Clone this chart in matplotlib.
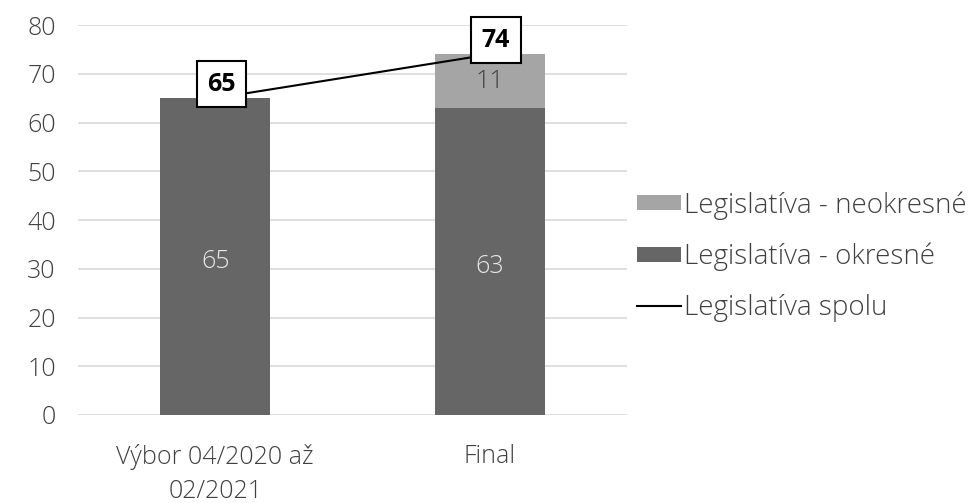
import matplotlib
matplotlib.use("Agg")
import matplotlib.pyplot as plt
import numpy as np

plt.rcParams['font.family'] = ['Open Sans', 'DejaVu Sans']

categories = ["Výbor 04/2020 až\n02/2021", "Final"]
okresne = [65, 63]
neokresne = [0, 11]
spolu = [65, 74]
series_names = ["Legislatíva - neokresné", "Legislatíva - okresné", "Legislatíva spolu"]
y_ticks = [0, 10, 20, 30, 40, 50, 60, 70, 80]

DARK = "#666666"
LIGHT = "#a5a5a5"
TXT = "#404040"
FS = 18

fig = plt.figure(figsize=(9.76, 5.03), dpi=100)
ax = fig.add_axes([0.0799, 0.175, 0.5625, 0.775])

x = np.arange(len(categories))
w = 0.4
b_ok = ax.bar(x, okresne, w, color=DARK, zorder=2, label=series_names[1])
b_neo = ax.bar(x, neokresne, w, bottom=okresne, color=LIGHT, zorder=2,
               label=series_names[0])
ln, = ax.plot(x, spolu, color="black", lw=1.5, zorder=3, label=series_names[2])

# value labels inside bars
for xi, v in zip(x, okresne):
    ax.text(xi, v / 2 - 1, f"{v}", ha="center", va="center", color="#e8e8e8",
            fontsize=FS, fontweight="light", zorder=4)
for xi, b, v in zip(x, okresne, neokresne):
    if v:
        ax.text(xi, b + v / 2, f"{v}", ha="center", va="center", color=TXT,
                fontsize=FS, fontweight="light", zorder=4)

# total labels in boxes
for xi, v in zip(x, spolu):
    ax.annotate(f"{v}", (xi, v), xytext=(4.5, 10), textcoords="offset points",
                ha="center", va="center", fontsize=FS, fontweight="bold",
                color="black", zorder=5,
                bbox=dict(boxstyle="square,pad=0.42", fc="white", ec="black", lw=1.5))

ax.set_xlim(-0.5, 1.5)
ax.set_ylim(0, 80)
ax.set_yticks(y_ticks)
ax.set_xticks(x)
ax.set_xticklabels(categories, fontweight="light", linespacing=1.45)
ax.set_yticklabels([str(t) for t in y_ticks], fontweight="light")
ax.tick_params(length=0, labelsize=FS, colors=TXT)
ax.tick_params(axis="x", pad=21)
ax.tick_params(axis="y", pad=16)
ax.grid(axis="y", color="#d9d9d9", lw=1.2, zorder=0)
ax.set_axisbelow(True)
for s in ax.spines.values():
    s.set_visible(False)

fig.legend(handles=[b_neo, b_ok, ln], labels=series_names,
           loc="center left", bbox_to_anchor=(0.627, 0.49), frameon=False,
           prop=dict(size=20, weight="light"), handlelength=1.6, handleheight=0.45,
           handletextpad=0.1, labelspacing=0.82, labelcolor=TXT)

fig.savefig("out.png", dpi=100)
